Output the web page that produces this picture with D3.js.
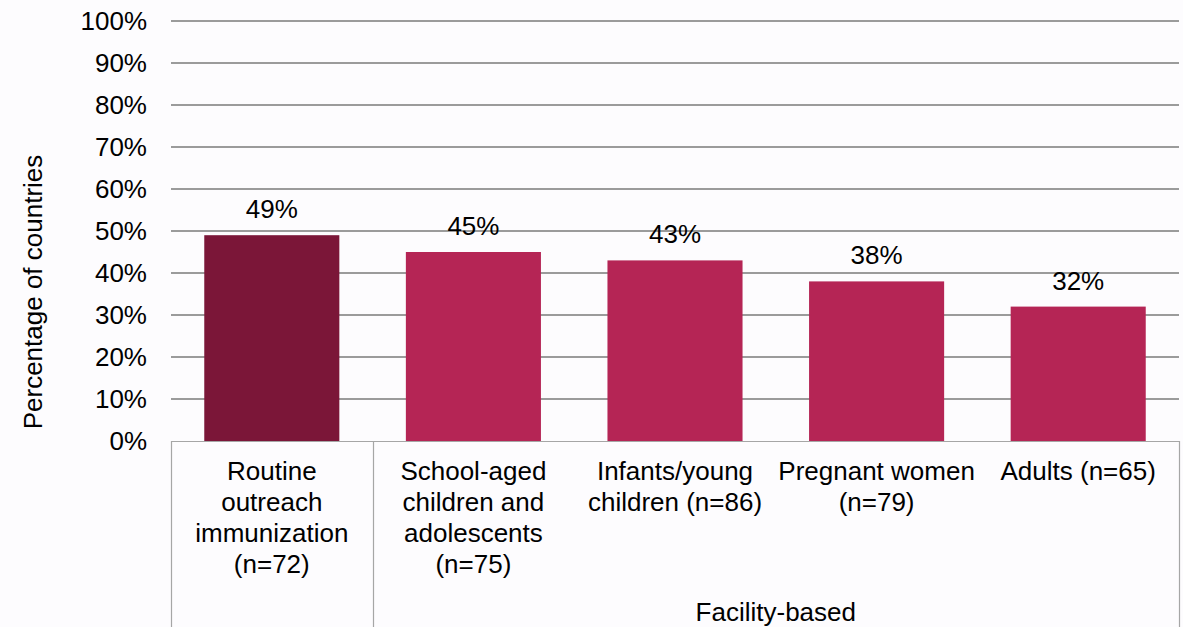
<!DOCTYPE html>
<html>
<head>
<meta charset="utf-8">
<script src="https://cdn.jsdelivr.net/npm/d3@7"></script>
<style>
  html, body { margin: 0; padding: 0; background: #fdfcfe; }
  svg { display: block; }
  text { font-family: "Liberation Sans", Arial, sans-serif; fill: #000; }
</style>
</head>
<body>
<svg id="chart" width="1183" height="627"></svg>
<script>
const categories = ["routine", "school", "infants", "pregnant", "adults"];
const categoryLabels = [
  ["Routine", "outreach", "immunization", "(n=72)"],
  ["School-aged", "children and", "adolescents", "(n=75)"],
  ["Infants/young", "children (n=86)"],
  ["Pregnant women", "(n=79)"],
  ["Adults (n=65)"]
];
const values = [49, 45, 43, 38, 32];
const groups = [
  { label: "", from: 0, to: 0 },
  { label: "Facility-based", from: 1, to: 4 }
];
const yTicks = [0, 10, 20, 30, 40, 50, 60, 70, 80, 90, 100];
const yTitle = "Percentage of countries";
const barColors = ["#7b1638", "#b52555", "#b52555", "#b52555", "#b52555"];

(function () {
const svg = d3.select("#chart");
const mLeft = 171, mRight = 1179, mTop = 21, mBottom = 441, boxBottom = 627;
const fs = 26;

const x = d3.scaleBand().domain(categories).range([mLeft, mRight])
  .paddingInner(0.33).paddingOuter(0.165);
const y = d3.scaleLinear().domain([0, 100]).range([mBottom, mTop]);

// gridlines
svg.append("g").selectAll("line").data(yTicks.filter(d => d > 0)).join("line")
  .attr("x1", mLeft).attr("x2", mRight)
  .attr("y1", d => y(d)).attr("y2", d => y(d))
  .attr("stroke", "#9b9b9b").attr("stroke-width", 1.8);

// y tick labels
svg.append("g").selectAll("text").data(yTicks).join("text")
  .attr("x", 147).attr("y", d => y(d)).attr("dy", "0.36em")
  .attr("text-anchor", "end").attr("font-size", fs)
  .text(d => d + "%");

// y title
svg.append("text")
  .attr("transform", `translate(42,292) rotate(-90)`)
  .attr("text-anchor", "middle").attr("font-size", fs)
  .text(yTitle);

// bars
svg.append("g").selectAll("rect").data(values).join("rect")
  .attr("x", (d, i) => x(categories[i]))
  .attr("width", x.bandwidth())
  .attr("y", d => y(d))
  .attr("height", d => y(0) - y(d))
  .attr("fill", (d, i) => barColors[i]);

// value labels
svg.append("g").selectAll("text").data(values).join("text")
  .attr("x", (d, i) => x(categories[i]) + x.bandwidth() / 2)
  .attr("y", d => y(d) - 17)
  .attr("text-anchor", "middle").attr("font-size", fs)
  .text(d => d + "%");

// axis base line & category boxes
const boxColor = "#a6a6a6";
svg.append("line").attr("x1", mLeft).attr("x2", mRight)
  .attr("y1", mBottom + 0.5).attr("y2", mBottom + 0.5)
  .attr("stroke", boxColor).attr("stroke-width", 1.2);

const step = x.step();
const boundaries = [mLeft];
groups.forEach(g => boundaries.push(mLeft + step * (g.to + 1)));
svg.append("g").selectAll("line").data(boundaries).join("line")
  .attr("x1", d => Math.round(d) + 0.5).attr("x2", d => Math.round(d) + 0.5)
  .attr("y1", mBottom).attr("y2", boxBottom)
  .attr("stroke", boxColor).attr("stroke-width", 1.2);

// category labels
const catG = svg.append("g");
categoryLabels.forEach((lines, i) => {
  const cx = x(categories[i]) + x.bandwidth() / 2;
  const t = catG.append("text")
    .attr("x", cx).attr("y", 480)
    .attr("text-anchor", "middle").attr("font-size", fs);
  lines.forEach((ln, j) => {
    t.append("tspan").attr("x", cx).attr("dy", j === 0 ? 0 : 31).text(ln);
  });
});

// group labels
svg.append("g").selectAll("text").data(groups.filter(g => g.label)).join("text")
  .attr("x", g => (mLeft + step * g.from + mLeft + step * (g.to + 1)) / 2)
  .attr("y", 621)
  .attr("text-anchor", "middle").attr("font-size", fs)
  .text(g => g.label);
})();
</script>
</body>
</html>
